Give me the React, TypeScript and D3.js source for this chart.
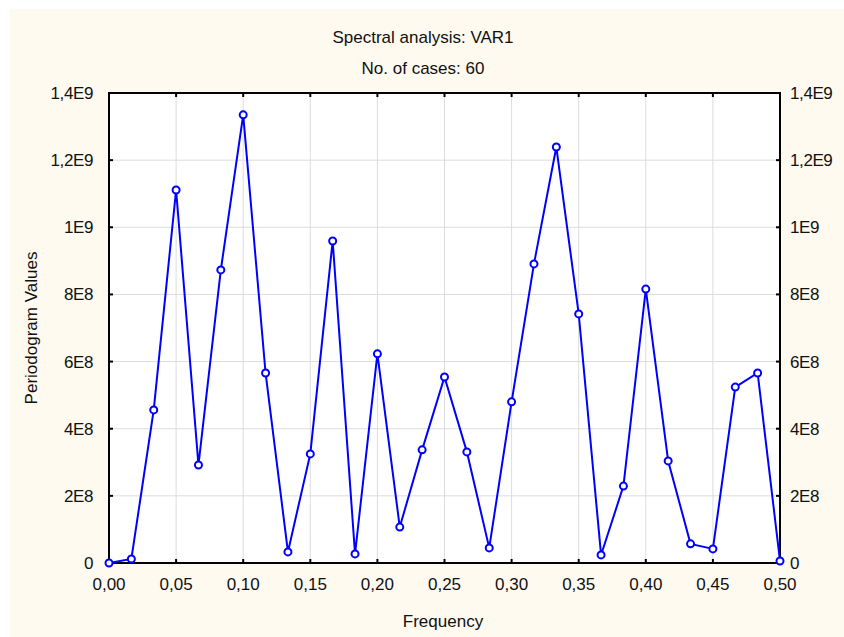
import React from 'react'
import * as d3 from 'd3'

// periodogram values at frequency k/60, k = 0..30
const frequencies = d3.range(31).map((k) => k / 60)
const periodogram = [
  0, 1.2e7, 4.56e8, 1.111e9, 2.92e8, 8.73e8, 1.335e9, 5.66e8, 3.3e7, 3.25e8,
  9.59e8, 2.7e7, 6.23e8, 1.07e8, 3.37e8, 5.54e8, 3.31e8, 4.5e7, 4.8e8, 8.91e8,
  1.239e9, 7.42e8, 2.4e7, 2.29e8, 8.16e8, 3.04e8, 5.7e7, 4.2e7, 5.24e8, 5.66e8, 6e6,
]
const xTicks = d3.range(11).map((i) => i * 0.05)
const yTicks = d3.range(8).map((i) => i * 2e8)
const yTickLabels = ['0', '2E8', '4E8', '6E8', '8E8', '1E9', '1,2E9', '1,4E9']

const width = 844
const height = 637
const left = 109
const right = 780
const top = 93
const bottom = 563
const font = 'Liberation Sans, Arial, sans-serif'
const fs = 17

const App = () => {
  const x = d3.scaleLinear().domain([0, 0.5]).range([left, right])
  const y = d3.scaleLinear().domain([0, 1.4e9]).range([bottom, top])
  const line = d3
    .line<number>()
    .x((d, i) => x(frequencies[i]))
    .y((d) => y(d))

  return (
    <svg
      width={width}
      height={height}
      style={{ position: 'absolute', left: 0, top: 0 }}
      fontFamily={font}
    >
      <rect x={0} y={0} width={width} height={height} fill="#fff" />
      <rect x={10} y={9} width={width - 10} height={height - 9} fill="#fefaf0" />
      <rect x={left} y={top} width={right - left} height={bottom - top} fill="#fff" />

      {xTicks.map((t, i) => (
        <line key={'gx' + i} x1={x(t)} x2={x(t)} y1={top} y2={bottom} stroke="#dcdcdc" />
      ))}
      {yTicks.map((t, i) => (
        <line key={'gy' + i} x1={left} x2={right} y1={y(t)} y2={y(t)} stroke="#dcdcdc" />
      ))}

      {xTicks.map((t, i) => (
        <g key={'tx' + i}>
          <line x1={x(t)} x2={x(t)} y1={bottom} y2={bottom - 4} stroke="#000" strokeWidth={2} />
          <line x1={x(t)} x2={x(t)} y1={top} y2={top + 4} stroke="#000" strokeWidth={2} />
          <text x={x(t)} y={590} textAnchor="middle" fontSize={fs} fill="#111">
            {d3.format('.2f')(t).replace('.', ',')}
          </text>
        </g>
      ))}
      {yTicks.map((t, i) => (
        <g key={'ty' + i}>
          <line x1={left} x2={left + 4} y1={y(t)} y2={y(t)} stroke="#000" strokeWidth={2} />
          <line x1={right} x2={right - 4} y1={y(t)} y2={y(t)} stroke="#000" strokeWidth={2} />
          <text x={93} y={y(t) + 6} textAnchor="end" fontSize={fs} fill="#111" letterSpacing={-0.4}>
            {yTickLabels[i]}
          </text>
          <text x={790} y={y(t) + 6} textAnchor="start" fontSize={fs} fill="#111" letterSpacing={-0.4}>
            {yTickLabels[i]}
          </text>
        </g>
      ))}

      <rect
        x={left}
        y={top}
        width={right - left}
        height={bottom - top}
        fill="none"
        stroke="#000"
        strokeWidth={2}
      />

      <path d={line(periodogram) ?? ''} fill="none" stroke="#0000ff" strokeWidth={2} />
      {periodogram.map((d, i) => (
        <circle
          key={'p' + i}
          cx={x(frequencies[i])}
          cy={y(d)}
          r={3.5}
          fill="#fff"
          stroke="#0000ff"
          strokeWidth={2}
        />
      ))}

      <text x={423} y={43} textAnchor="middle" fontSize={fs} fill="#111">
        Spectral analysis: VAR1
      </text>
      <text x={423} y={74} textAnchor="middle" fontSize={fs} fill="#111">
        No. of cases: 60
      </text>
      <text x={443} y={627} textAnchor="middle" fontSize={fs} fill="#111">
        Frequency
      </text>
      <text
        transform={`translate(37, ${(top + bottom) / 2}) rotate(-90)`}
        textAnchor="middle"
        fontSize={fs}
        fill="#111"
      >
        Periodogram Values
      </text>
    </svg>
  )
}

export default App
